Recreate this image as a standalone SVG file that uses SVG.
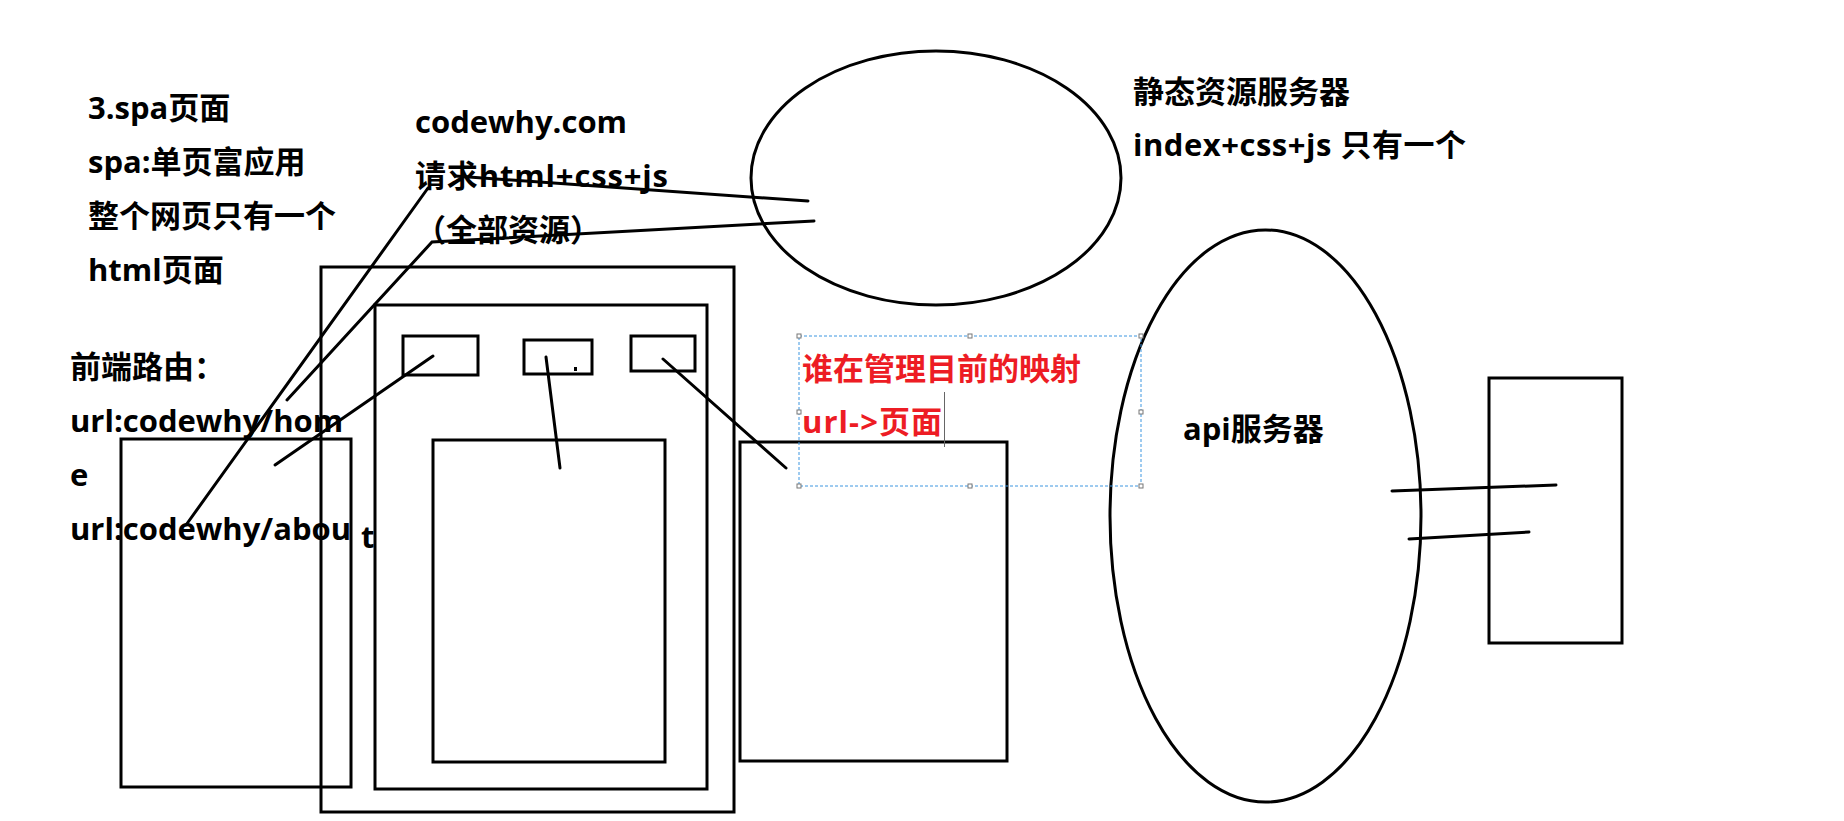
<svg xmlns="http://www.w3.org/2000/svg" width="1844" height="821" viewBox="0 0 1844 821">
<style>
.t{font-family:"Open Sans","Noto Sans CJK SC",sans-serif;font-weight:bold;font-size:31px;fill:#000}
.r{fill:#ed1c24}
.s{fill:none;stroke:#000;stroke-width:3}
.c{fill:none;stroke:#000;stroke-width:3;stroke-linecap:round}
.sel{fill:none;stroke:#3c96e0;stroke-width:1;stroke-dasharray:3 2}
.h{fill:#fff;stroke:#777;stroke-width:1}
</style>
<rect width="1844" height="821" fill="#fff"/>
<g id="text-spa">
<text class="t" x="88" y="119">3.spa页面</text>
<text class="t" x="88" y="173">spa:单页富应用</text>
<text class="t" x="88" y="227">整个网页只有一个</text>
<text class="t" x="88" y="281">html页面</text>
</g>
<g id="text-route">
<text class="t" x="70" y="378">前端路由：</text>
<text class="t" x="70" y="432">url:codewhy/hom</text>
<text class="t" x="70" y="486">e</text>
<text class="t" x="70" y="540">url:codewhy/abou</text>
<text class="t" x="361" y="548">t</text>
</g>
<g id="text-request">
<text class="t" x="415" y="133">codewhy.com</text>
<text class="t" x="415" y="187" textLength="253" lengthAdjust="spacing">请求html+css+js</text>
<text class="t" x="415" y="241">（全部资源）</text>
</g>
<g id="text-static">
<text class="t" x="1133" y="103">静态资源服务器</text>
<text class="t" x="1133" y="156" textLength="333" lengthAdjust="spacing">index+css+js 只有一个</text>
</g>
<g id="static-server"><ellipse class="s" cx="936" cy="178" rx="185" ry="127"/></g>
<g id="api-server">
<ellipse class="s" cx="1265.5" cy="516" rx="155.5" ry="286"/>
<text class="t" x="1183" y="440">api服务器</text>
</g>
<g id="right-box"><rect class="s" x="1489" y="378" width="133" height="265"/></g>
<g id="left-box"><rect class="s" x="121" y="439" width="230" height="348"/></g>
<g id="browser-outer"><rect class="s" x="321" y="267" width="413" height="545"/></g>
<g id="browser-inner"><rect class="s" x="375" y="305" width="332" height="484"/></g>
<g id="tab-1"><rect class="s" x="403" y="336" width="75" height="39"/></g>
<g id="tab-2"><rect class="s" x="524" y="340" width="68" height="34"/><rect x="574" y="367" width="3" height="4" fill="#000"/></g>
<g id="tab-3"><rect class="s" x="631" y="336" width="64" height="35"/></g>
<g id="content"><rect class="s" x="433" y="440" width="232" height="322"/></g>
<g id="page-box"><rect class="s" x="740" y="442" width="267" height="319"/></g>
<g id="note">
<rect class="sel" x="799" y="336" width="342" height="150"/>
<rect class="h" x="797" y="334" width="4" height="4"/>
<rect class="h" x="968" y="334" width="4" height="4"/>
<rect class="h" x="1139" y="334" width="4" height="4"/>
<rect class="h" x="797" y="410" width="4" height="4"/>
<rect class="h" x="1139" y="410" width="4" height="4"/>
<rect class="h" x="797" y="484" width="4" height="4"/>
<rect class="h" x="968" y="484" width="4" height="4"/>
<rect class="h" x="1139" y="484" width="4" height="4"/>
<text class="t r" x="802" y="380">谁在管理目前的映射</text>
<text class="t r" x="802" y="433" textLength="140" lengthAdjust="spacing">url-&gt;页面</text>
<line x1="944.5" y1="392" x2="944.5" y2="447" stroke="#666" stroke-width="1"/>
</g>
<g id="connectors">
<line class="c" x1="186" y1="525" x2="428" y2="188"/>
<line class="c" x1="455" y1="176" x2="808" y2="201"/>
<polyline class="c" points="287,400 432,242 814,221"/>
<line class="c" x1="275" y1="465" x2="433" y2="356"/>
<line class="c" x1="546" y1="357" x2="560" y2="468"/>
<line class="c" x1="663" y1="359" x2="786" y2="468"/>
<line class="c" x1="1392" y1="491" x2="1556" y2="485"/>
<line class="c" x1="1409" y1="539" x2="1529" y2="532"/>
</g>
</svg>
